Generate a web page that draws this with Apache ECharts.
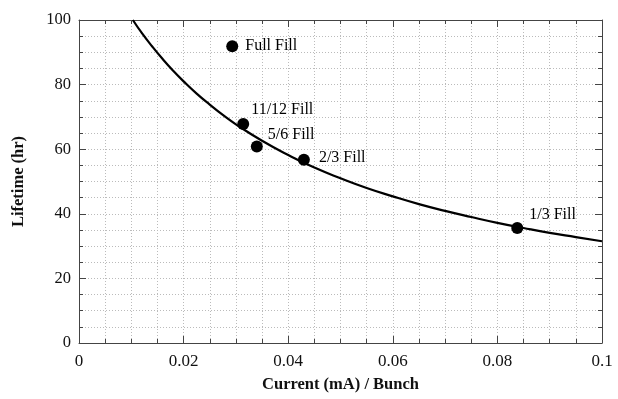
<!DOCTYPE html>
<html><head><meta charset="utf-8">
<script src="https://cdn.jsdelivr.net/npm/echarts@6/dist/echarts.min.js"></script>
<style>html,body{margin:0;padding:0;background:#fff}#c{width:618px;height:399px}</style>
</head><body><div id="c"></div>
<script>
var fillNames = ['Full Fill','11/12 Fill','5/6 Fill','2/3 Fill','1/3 Fill'];
var fillCurrent = [0.0293, 0.0314, 0.0340, 0.0430, 0.0838];
var fillLifetime = [91.9, 67.8, 60.8, 56.7, 35.6];
var fitCurrent = [0.0103,0.012,0.014,0.016,0.018,0.020,0.0225,0.025,0.0275,0.030,0.035,0.040,0.045,0.050,0.055,0.060,0.065,0.070,0.075,0.080,0.085,0.090,0.095,0.100];
var fitLifetime = [100.0,96.0,91.8,87.9,84.3,81.0,77.2,73.8,70.6,67.7,62.6,58.2,54.3,51.0,48.0,45.4,43.0,40.9,39.0,37.2,35.6,34.1,32.8,31.5];
var xTicks = [0,0.02,0.04,0.06,0.08,0.1];
var yTicks = [0,20,40,60,80,100];
var labelOffsets = [[2,0],[-3,-14],[0,-12],[4,-2],[1,-13]];

var font = 'Liberation Serif';
var chart = echarts.init(document.getElementById('c'));
var gridLine = {show:true, lineStyle:{color:'#bbb', type:[1,2], width:1}};
function axisCommon(extra){
  return Object.assign({
    axisLine:{show:true, onZero:false, lineStyle:{color:'#444', width:1}},
    axisTick:{show:true, inside:true, length:7, lineStyle:{color:'#444'}},
    minorTick:{show:true, splitNumber:4, length:4, lineStyle:{color:'#444'}},
  }, extra);
}
chart.setOption({
  animation:false,
  grid:{left:79, right:16, top:20, bottom:56},
  xAxis:[
    axisCommon({type:'value', min:0, max:0.1, interval:0.02, position:'bottom',
      axisLabel:{fontFamily:font, fontSize:17, color:'#111', margin:10,
        formatter:function(v){ return xTicks.indexOf(+v.toFixed(2))>=0 ? String(+v.toFixed(2)) : ''; }},
      splitLine:gridLine, minorSplitLine:gridLine,
      name:'Current (mA) / Bunch', nameLocation:'middle', nameGap:33,
      nameTextStyle:{fontFamily:font, fontSize:16.5, fontWeight:'bold', color:'#111'}}),
    axisCommon({type:'value', min:0, max:0.1, interval:0.02, position:'top',
      axisLabel:{show:false}, splitLine:{show:false}})
  ],
  yAxis:[
    axisCommon({type:'value', min:0, max:100, interval:20, position:'left',
      axisLabel:{fontFamily:font, fontSize:16.5, color:'#111', margin:8},
      splitLine:gridLine, minorSplitLine:gridLine,
      name:'Lifetime (hr)', nameLocation:'middle', nameGap:52,
      nameTextStyle:{fontFamily:font, fontSize:16.5, fontWeight:'bold', color:'#111'}}),
    axisCommon({type:'value', min:0, max:100, interval:20, position:'right',
      axisLabel:{show:false}, splitLine:{show:false}})
  ],
  series:[
    {type:'line', data:fitCurrent.map(function(x,i){return [x, fitLifetime[i]];}),
      smooth:true, showSymbol:false, lineStyle:{color:'#000', width:2.2}, z:3},
    {type:'scatter', symbolSize:12, itemStyle:{color:'#000', opacity:1}, z:4,
      data:fillCurrent.map(function(x,i){
        return {value:[x, fillLifetime[i]], label:{show:true, position:'right', distance:5,
          offset:labelOffsets[i], formatter:fillNames[i], fontFamily:font, fontSize:16, color:'#000'}};
      })}
  ]
});
</script></body></html>
